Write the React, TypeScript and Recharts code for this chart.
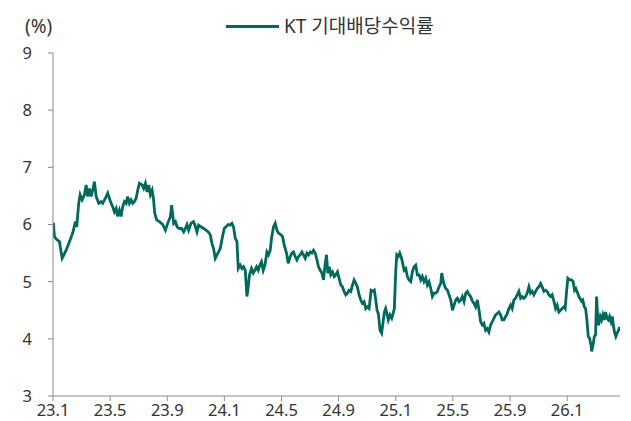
import { LineChart, Line, XAxis, YAxis } from "recharts";

// months since 2023-01 (fractional)
const months = [
  0.03, 0.1, 0.24, 0.45, 0.64, 0.73, 0.92, 1.15, 1.38, 1.57,
  1.66, 1.8, 1.9, 2.04, 2.2, 2.32, 2.43, 2.55, 2.67, 2.78,
  2.9, 3.02, 3.2, 3.37, 3.48, 3.67, 3.83, 3.95, 4.07, 4.18,
  4.3, 4.42, 4.53, 4.65, 4.77, 4.88, 5.0, 5.12, 5.23, 5.35,
  5.47, 5.58, 5.7, 5.82, 5.93, 6.05, 6.24, 6.35, 6.47, 6.59,
  6.7, 6.82, 6.94, 7.03, 7.12, 7.26, 7.45, 7.68, 7.87, 8.03,
  8.22, 8.31, 8.45, 8.57, 8.69, 8.85, 9.01, 9.15, 9.27, 9.38,
  9.5, 9.66, 9.83, 9.94, 10.08, 10.2, 10.36, 10.55, 10.71, 10.87,
  11.01, 11.13, 11.24, 11.36, 11.48, 11.59, 11.71, 11.87, 11.99, 12.11,
  12.27, 12.41, 12.53, 12.64, 12.76, 12.88, 12.97, 13.11, 13.23, 13.34,
  13.46, 13.58, 13.67, 13.76, 13.9, 14.02, 14.14, 14.25, 14.37, 14.49,
  14.6, 14.72, 14.84, 14.98, 15.09, 15.21, 15.3, 15.44, 15.56, 15.68,
  15.79, 15.96, 16.07, 16.19, 16.35, 16.47, 16.61, 16.73, 16.84, 16.96,
  17.08, 17.19, 17.31, 17.43, 17.54, 17.66, 17.78, 17.89, 18.01, 18.13,
  18.24, 18.36, 18.48, 18.59, 18.71, 18.83, 18.94, 19.06, 19.15, 19.24,
  19.34, 19.45, 19.57, 19.69, 19.8, 19.92, 20.03, 20.15, 20.27, 20.38,
  20.5, 20.62, 20.73, 20.85, 20.97, 21.08, 21.2, 21.31, 21.43, 21.55,
  21.66, 21.78, 21.9, 22.01, 22.13, 22.2, 22.27, 22.41, 22.5, 22.6,
  22.69, 22.78, 22.9, 23.01, 23.1, 23.2, 23.29, 23.38, 23.48, 23.6,
  23.72, 23.81, 23.9, 24.0, 24.07, 24.18, 24.28, 24.37, 24.46, 24.58,
  24.7, 24.81, 24.93, 25.05, 25.16, 25.28, 25.4, 25.51, 25.63, 25.75,
  25.86, 25.98, 26.1, 26.21, 26.33, 26.45, 26.56, 26.68, 26.8, 26.91,
  27.03, 27.15, 27.22, 27.31, 27.4, 27.5, 27.62, 27.73, 27.85, 27.97,
  28.08, 28.2, 28.31, 28.43, 28.55, 28.66, 28.78, 28.9, 29.01, 29.13,
  29.24, 29.36, 29.48, 29.59, 29.71, 29.83, 29.94, 30.06, 30.17, 30.29,
  30.41, 30.52, 30.64, 30.76, 30.87, 30.99, 31.1, 31.22, 31.34, 31.45,
  31.57, 31.69, 31.8, 31.92, 32.04, 32.15, 32.27, 32.39, 32.5, 32.62,
  32.74, 32.85, 32.97, 33.09, 33.2, 33.32, 33.44, 33.55, 33.67, 33.79,
  33.9, 34.02, 34.14, 34.25, 34.37, 34.49, 34.6, 34.72, 34.84, 34.95,
  35.07, 35.19, 35.3, 35.42, 35.54, 35.65, 35.77, 35.86, 35.96, 36.05,
  36.17, 36.31, 36.42, 36.52, 36.61, 36.73, 36.82, 36.89, 37.0, 37.09,
  37.2, 37.29, 37.37, 37.48, 37.57, 37.67, 37.71, 37.81, 37.9, 37.99,
  38.06, 38.13, 38.2, 38.32, 38.41, 38.5, 38.6, 38.69, 38.79, 38.88,
  38.97, 39.07, 39.16, 39.22, 39.31, 39.41, 39.5, 39.6, 39.69,
];

// KT expected dividend yield (%)
const yields = [
  6.03, 5.79, 5.74, 5.7, 5.41, 5.45, 5.55, 5.7, 5.85, 6.05,
  5.96, 6.37, 6.52, 6.43, 6.52, 6.69, 6.49, 6.63, 6.49, 6.6,
  6.75, 6.49, 6.37, 6.4, 6.37, 6.46, 6.55, 6.46, 6.37, 6.31,
  6.22, 6.28, 6.14, 6.25, 6.14, 6.31, 6.4, 6.37, 6.49, 6.37,
  6.43, 6.37, 6.4, 6.46, 6.6, 6.72, 6.69, 6.63, 6.72, 6.57,
  6.69, 6.52, 6.6, 6.46, 6.2, 6.08, 6.05, 6.0, 5.9, 6.02,
  6.14, 6.34, 6.02, 6.05, 5.96, 5.93, 5.93, 5.87, 5.93, 6.0,
  5.9, 6.02, 6.05, 5.99, 5.87, 5.99, 5.96, 5.93, 5.9, 5.87,
  5.82, 5.67, 5.58, 5.41, 5.47, 5.52, 5.58, 5.79, 5.93, 5.96,
  6.0, 5.99, 6.02, 5.96, 5.76, 5.7, 5.23, 5.29, 5.23, 5.26,
  5.2, 4.74, 4.91, 5.12, 5.23, 5.15, 5.2, 5.26, 5.2, 5.29,
  5.35, 5.2, 5.29, 5.52, 5.47, 5.55, 5.76, 5.96, 6.02, 5.9,
  5.85, 5.82, 5.79, 5.64, 5.5, 5.32, 5.44, 5.5, 5.52, 5.44,
  5.38, 5.44, 5.47, 5.52, 5.47, 5.41, 5.5, 5.47, 5.52, 5.5,
  5.55, 5.5, 5.38, 5.26, 5.2, 5.15, 5.03, 5.32, 5.47, 5.15,
  5.26, 5.12, 5.17, 5.09, 5.12, 5.17, 5.06, 4.94, 4.91, 4.83,
  4.77, 4.8, 4.85, 4.83, 4.94, 5.03, 4.97, 4.91, 4.77, 4.68,
  4.62, 4.65, 4.53, 4.56, 4.53, 4.68, 4.85, 4.83, 4.85, 4.68,
  4.5, 4.44, 4.15, 4.1, 4.27, 4.47, 4.53, 4.44, 4.33, 4.42,
  4.36, 4.44, 4.53, 5.2, 5.47, 5.44, 5.5, 5.44, 5.35, 5.2,
  5.23, 5.09, 5.03, 5.0, 5.17, 5.26, 5.29, 5.12, 5.12, 5.03,
  5.09, 5.0, 5.06, 4.94, 5.0, 4.88, 4.74, 4.8, 4.8, 4.83,
  4.91, 4.97, 5.15, 5.03, 4.94, 4.88, 4.85, 4.77, 4.68, 4.5,
  4.59, 4.68, 4.71, 4.65, 4.68, 4.74, 4.65, 4.8, 4.83, 4.77,
  4.74, 4.66, 4.62, 4.56, 4.68, 4.5, 4.3, 4.24, 4.27, 4.15,
  4.18, 4.12, 4.24, 4.3, 4.36, 4.42, 4.44, 4.47, 4.42, 4.33,
  4.33, 4.39, 4.44, 4.53, 4.59, 4.53, 4.68, 4.71, 4.77, 4.83,
  4.71, 4.74, 4.71, 4.74, 4.8, 4.91, 4.8, 4.83, 4.77, 4.83,
  4.88, 4.91, 4.97, 4.91, 4.83, 4.85, 4.83, 4.77, 4.74, 4.77,
  4.66, 4.53, 4.59, 4.47, 4.5, 4.53, 4.56, 4.53, 4.83, 5.06,
  5.03, 5.03, 5.0, 4.85, 4.88, 4.8, 4.74, 4.71, 4.66, 4.68,
  4.56, 4.53, 4.36, 4.04, 4.01, 3.89, 3.78, 3.89, 4.04, 4.07,
  4.74, 4.42, 4.24, 4.39, 4.33, 4.42, 4.33, 4.47, 4.36, 4.33,
  4.39, 4.3, 4.39, 4.27, 4.12, 4.04, 4.1, 4.15, 4.21,
];

const xTicks = [0, 4, 8, 12, 16, 20, 24, 28, 32, 36];
const xTickLabels = ["23.1", "23.5", "23.9", "24.1", "24.5", "24.9", "25.1", "25.5", "25.9", "26.1"];
const yTicks = [3, 4, 5, 6, 7, 8, 9];

const seriesName = "KT 기대배당수익률";
const LINE_COLOR = "#00695c";
const AXIS_COLOR = "#8c8c8c";
const TEXT_COLOR = "#333333";
const FONT = "'Noto Sans', 'Noto Sans CJK KR', sans-serif";

const data = months.map((m, i) => ({ m, v: yields[i] }));

export default function App() {
  const tickStyle = { fill: TEXT_COLOR, fontSize: 16.5, fontFamily: FONT };

  return (
    <div style={{ position: "absolute", left: 0, top: 0, width: 631, height: 421, background: "#fff" }}>
      <LineChart width={631} height={421} data={data} margin={{ top: 53, right: 11, bottom: 0, left: 0 }}>
        <XAxis
          type="number"
          dataKey="m"
          domain={[0, 39.7]}
          ticks={xTicks}
          tickFormatter={(t: number) => xTickLabels[xTicks.indexOf(t)] ?? ""}
          height={25}
          stroke={AXIS_COLOR}
          tickSize={5}
          tickMargin={3}
          tick={tickStyle}
          interval={0}
          allowDataOverflow
        />
        <YAxis
          type="number"
          domain={[3, 9]}
          ticks={yTicks}
          width={53}
          stroke={AXIS_COLOR}
          tickSize={5}
          tickMargin={16}
          tick={tickStyle}
          interval={0}
          allowDataOverflow
        />
        <Line
          type="linear"
          dataKey="v"
          name={seriesName}
          stroke={LINE_COLOR}
          strokeWidth={2.8}
          dot={false}
          isAnimationActive={false}
        />
      </LineChart>
      <div
        style={{
          position: "absolute",
          left: 25,
          top: 13,
          fontFamily: FONT,
          fontSize: 19,
          color: TEXT_COLOR,
          lineHeight: "26px",
        }}
      >
        (%)
      </div>
      <div
        style={{
          position: "absolute",
          left: 226,
          top: 13,
          display: "flex",
          alignItems: "center",
          fontFamily: FONT,
          fontSize: 19,
          color: TEXT_COLOR,
          lineHeight: "26px",
          whiteSpace: "nowrap",
        }}
      >
        <span style={{ display: "inline-block", width: 53, height: 3, background: LINE_COLOR, marginRight: 5 }} />
        <span>{seriesName}</span>
      </div>
    </div>
  );
}
